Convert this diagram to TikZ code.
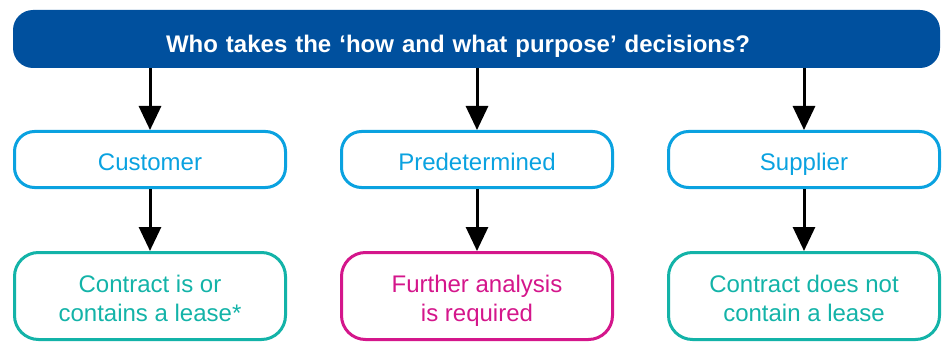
\documentclass[tikz,border=0pt]{standalone}
\usepackage{fontspec}
\setmainfont{Liberation Sans}
\usetikzlibrary{arrows.meta}
\definecolor{barblue}{HTML}{00509E}
\definecolor{lblue}{HTML}{0AA2E0}
\definecolor{teal}{HTML}{13B3A8}
\definecolor{pink}{HTML}{D4168B}
\begin{document}
\begin{tikzpicture}[x=1pt,y=-1pt,
  bar/.style={fill=barblue, draw=none, rounded corners=20pt, minimum height=58pt, inner xsep=153pt, inner ysep=0pt, text width=621pt, align=left, text=white, text height=28pt, text depth=0pt, font=\fontsize{24}{28}\selectfont\bfseries},
  midbox/.style={draw=#1, text=#1, line width=3pt, rounded corners=20pt, minimum width=271pt, minimum height=56pt, inner sep=0pt, text height=21pt, text depth=0pt, font=\fontsize{24}{29}\selectfont},
  endbox/.style={draw=#1, text=#1, line width=3pt, rounded corners=24pt, minimum width=271pt, minimum height=87pt, inner sep=0pt, align=center, text height=50pt, text depth=0pt, font=\fontsize{24}{29}\selectfont},
  arr/.style={line width=3pt, -{Triangle[length=24pt,width=22pt]}}
]
\useasboundingbox (0,0) rectangle (945,342);
\node[bar] (top) at (476.5,39) {Who takes the ‘how and what purpose’ decisions?};
\node[midbox=lblue] (cust) at (150,159.5) {Customer};
\node[midbox=lblue] (pred) at (477,159.5) {Predetermined};
\node[midbox=lblue] (supp) at (804,159.5) {Supplier};
\node[endbox=teal] (lease) at (150,296) {Contract is or\\contains a lease*};
\node[endbox=pink] (further) at (477,296) {Further analysis\\is required};
\node[endbox=teal] (nolease) at (804,296) {Contract does not\\contain a lease};
\draw[arr] (top.south -| cust) -- (cust.north);
\draw[arr] (top.south -| pred) -- (pred.north);
\draw[arr] (top.south -| supp) -- (supp.north);
\draw[arr] (cust) -- (lease);
\draw[arr] (pred) -- (further);
\draw[arr] (supp) -- (nolease);
\end{tikzpicture}
\end{document}
